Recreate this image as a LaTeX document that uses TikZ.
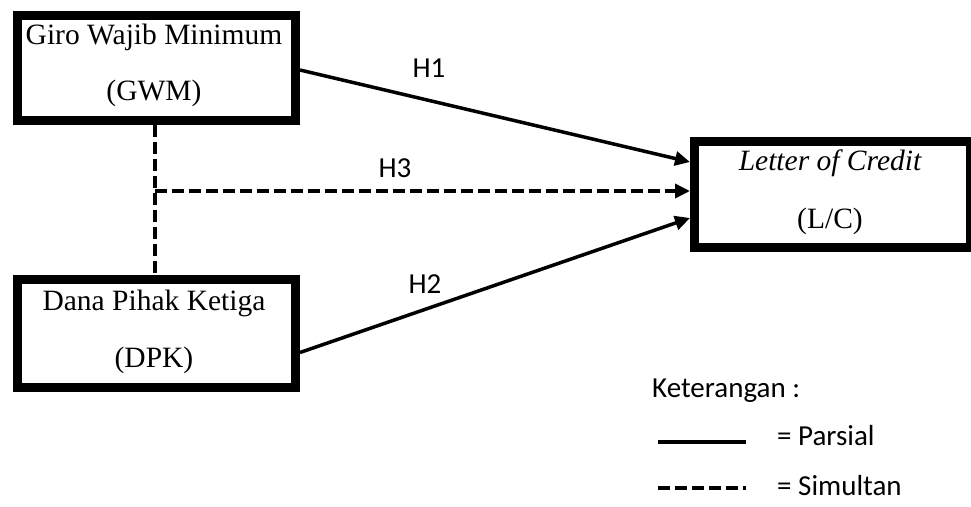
\documentclass[tikz,border=0pt]{standalone}
\usepackage{fontspec}
\setmainfont{Liberation Serif}
\newfontfamily\calfont{Carlito}
\usetikzlibrary{arrows.meta,calc}
\tikzset{
  box/.style={draw=black,line width=9pt,rectangle,inner sep=0pt,fill=white},
  boxtext/.style={font=\fontsize{29.5}{32}\selectfont,anchor=base,inner sep=0pt},
  lbl/.style={font=\calfont\fontsize{29}{32}\selectfont,anchor=base,inner sep=0pt},
  tip/.style={-{Triangle[length=15pt,width=14pt]}},
  conn/.style={line width=3.5pt,tip},
  dashconn/.style={line width=3.5pt,dash pattern=on 12pt off 5pt},
}
\begin{document}
\begin{tikzpicture}[x=1pt,y=-1pt]
\useasboundingbox (0,0) rectangle (971,506);
% boxes
\node[box,minimum width=278pt,minimum height=105pt] (GWM) at (156.5,68) {};
\node[box,minimum width=278pt,minimum height=108pt] (DPK) at (156.5,333.5) {};
\node[box,minimum width=276pt,minimum height=106pt] (LC) at (832.5,194.5) {};
% box texts
\node[boxtext] (t1) at (154,44) {Giro Wajib Minimum};
\node[boxtext] (t2) at (154,100) {(GWM)};
\node[boxtext] (t3) at (154,310) {Dana Pihak Ketiga};
\node[boxtext] (t4) at (154,367) {(DPK)};
\node[boxtext] (t5) at (830,170) {\itshape Letter of Credit};
\node[boxtext] (t6) at (830,228) {(L/C)};
% connectors
\coordinate (j) at (155,191);
\draw[dashconn] (GWM.south -| j) -- (DPK.north -| j);
\draw[dashconn,tip] (j) -- (j -| LC.west);
\draw[conn] ($(GWM.east)+(0,2)$) -- ($(LC.west)+(0,-32.5)$);
\draw[conn] ($(DPK.east)+(0,19)$) -- ($(LC.west)+(0,23.5)$);
% labels
\node[lbl] (h1) at (429,77) {H1};
\node[lbl] (h3) at (395,177) {H3};
\node[lbl] (h2) at (425,293) {H2};
% legend
\node[lbl,anchor=base west] (ket) at (652,397) {Keterangan :};
\coordinate (ls1) at (658,442);
\coordinate (le1) at (746,442);
\coordinate (ls2) at (658,488);
\coordinate (le2) at (746,488);
\draw[line width=3.5pt] (ls1) -- (le1);
\draw[dashconn] (ls2) -- (le2);
\node[lbl,anchor=base west] (par) at (777,445) {= Parsial};
\node[lbl,anchor=base west] (sim) at (777,495) {= Simultan};
\end{tikzpicture}
\end{document}
